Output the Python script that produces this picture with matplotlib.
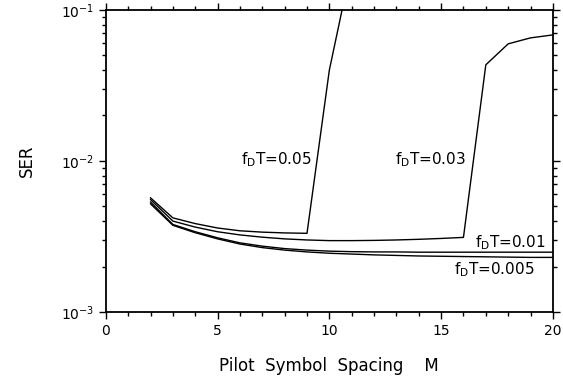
import matplotlib
matplotlib.use("Agg")
import matplotlib.pyplot as plt
from matplotlib.ticker import LogLocator, MultipleLocator, NullFormatter

# pilot symbol spacing M and symbol error rate for each fD*T
m_005 = [2, 3, 4, 5, 6, 7, 8, 9, 10, 11]
ser_005 = [5.7e-3, 4.2e-3, 3.85e-3, 3.6e-3, 3.45e-3, 3.38e-3, 3.34e-3, 3.32e-3, 4.0e-2, 2.0e-1]

m_all = list(range(2, 21))
ser_003 = [5.55e-3, 4.0e-3, 3.65e-3, 3.4e-3, 3.24e-3, 3.13e-3, 3.05e-3, 3.0e-3, 2.97e-3,
           2.97e-3, 2.98e-3, 3.0e-3, 3.03e-3, 3.07e-3, 3.12e-3, 4.33e-2, 5.96e-2, 6.53e-2, 6.83e-2]
ser_001 = [5.35e-3, 3.8e-3, 3.4e-3, 3.1e-3, 2.87e-3, 2.73e-3, 2.63e-3, 2.57e-3, 2.53e-3,
           2.51e-3, 2.5e-3, 2.5e-3, 2.49e-3, 2.49e-3, 2.49e-3, 2.49e-3, 2.49e-3, 2.49e-3, 2.49e-3]
ser_0005 = [5.2e-3, 3.75e-3, 3.35e-3, 3.05e-3, 2.82e-3, 2.67e-3, 2.57e-3, 2.5e-3, 2.45e-3,
            2.42e-3, 2.39e-3, 2.37e-3, 2.35e-3, 2.34e-3, 2.33e-3, 2.32e-3, 2.31e-3, 2.3e-3, 2.3e-3]

plt.rcParams["font.family"] = "DejaVu Sans"

fig = plt.figure(figsize=(5.63, 3.81), dpi=100)
ax = fig.add_axes([0.188, 0.181, 0.794, 0.793])

for xs, ys in [(m_005, ser_005), (m_all, ser_003), (m_all, ser_001), (m_all, ser_0005)]:
    ax.plot(xs, ys, color="black", linewidth=1.0)

ax.set_yscale("log")
ax.set_xlim(0, 20)
ax.set_ylim(1e-3, 1e-1)

ax.xaxis.set_major_locator(MultipleLocator(5))
ax.xaxis.set_minor_locator(MultipleLocator(1))
ax.yaxis.set_major_locator(LogLocator(base=10, numticks=5))
ax.yaxis.set_minor_locator(LogLocator(base=10, subs=range(2, 10), numticks=20))
ax.yaxis.set_minor_formatter(NullFormatter())

ax.tick_params(which="both", direction="out", top=True, right=True,
               labeltop=False, labelright=False, width=1.0, labelsize=10)
ax.tick_params(which="major", length=5)
ax.tick_params(which="minor", length=3)
for s in ax.spines.values():
    s.set_linewidth(1.3)

ax.set_xlabel("Pilot  Symbol  Spacing    M", fontsize=12, labelpad=14)
ax.set_ylabel("SER", fontsize=12, labelpad=18)

lab = dict(fontsize=11, color="black", va="center")
ax.text(9.2, 1.02e-2, r"f$_\mathregular{D}$T=0.05", ha="right", **lab)
ax.text(16.1, 1.02e-2, r"f$_\mathregular{D}$T=0.03", ha="right", **lab)
ax.text(19.7, 2.9e-3, r"f$_\mathregular{D}$T=0.01", ha="right", **lab)
ax.text(19.2, 1.92e-3, r"f$_\mathregular{D}$T=0.005", ha="right", **lab)

fig.savefig("out.png", dpi=100)
